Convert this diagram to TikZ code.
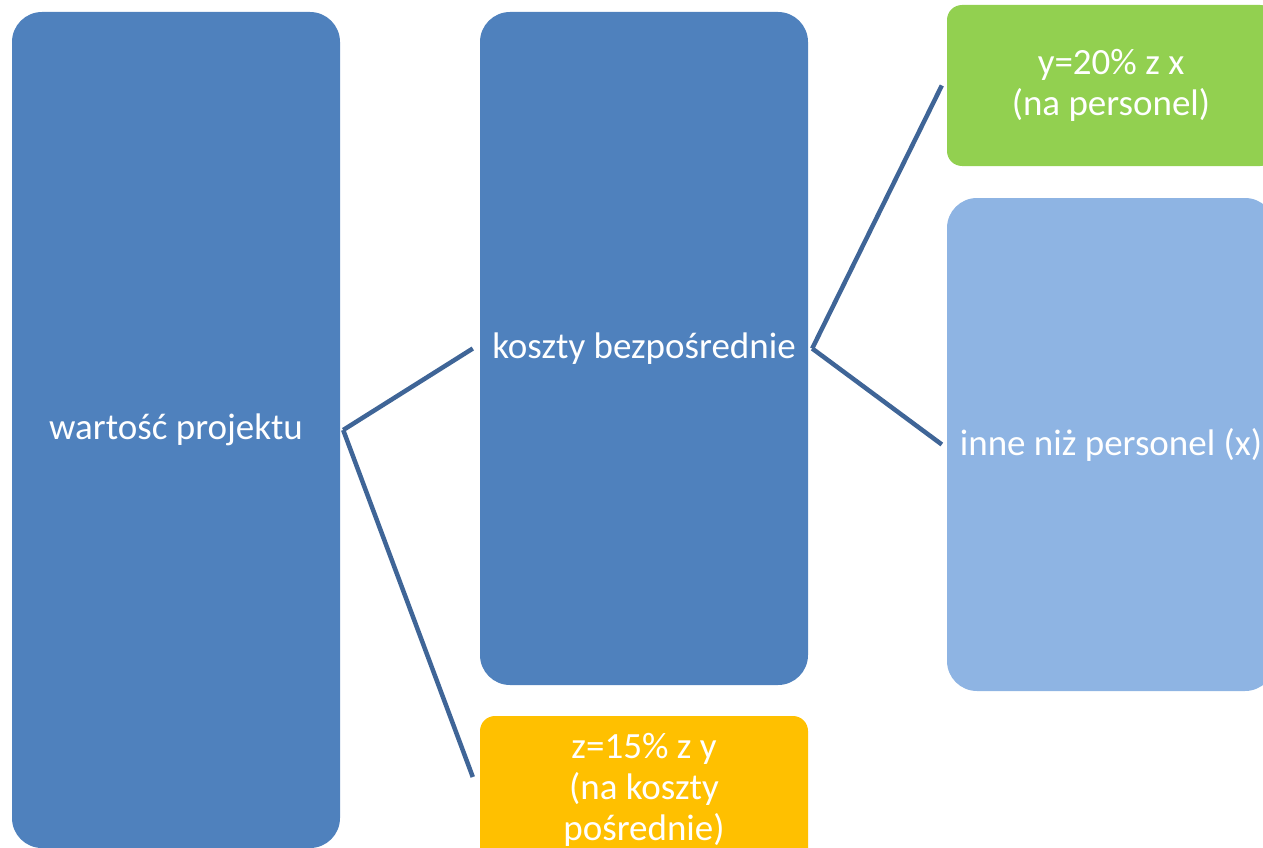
\documentclass[tikz,border=0pt]{standalone}
\usepackage{fontspec}
\setmainfont{Carlito}
\definecolor{niebieski}{HTML}{4F81BD}
\definecolor{jasnoniebieski}{HTML}{8EB4E3}
\definecolor{zielony}{HTML}{92D050}
\definecolor{pomaranczowy}{HTML}{FFC000}
\definecolor{linia}{HTML}{3F6597}
\tikzset{
  pole/.style={rectangle, rounded corners=30pt, inner sep=0pt, minimum width=328pt,
    text=white, align=center, font=\fontsize{37}{41}\selectfont},
  polemale/.style={pole, rounded corners=15pt},
  lacznik/.style={draw=linia, line width=4.5pt}
}
\begin{document}
\begin{tikzpicture}[x=1pt,y=-1pt]

    % Tlo
    \useasboundingbox (0,0) rectangle (1263,848);
    \begin{scope}
    \clip (0,0) rectangle (1263,848);

    % Pola
    \node[pole, fill=niebieski, minimum height=836pt] (wp) at (176,430) {warto\'s\'c projektu};
    \node[pole, fill=niebieski, minimum height=673pt] (kb) at (644,348.5) {koszty bezpo\'srednie};
    \node[polemale, fill=pomaranczowy, minimum height=148pt] (kp) at (644,790) {z=15\% z y\\(na koszty\\po\'srednie)};
    \node[polemale, fill=zielony, minimum height=161pt, text depth=6pt] (np) at (1111,85.5) {y=20\% z x\\(na personel)};
    \node[pole, fill=jasnoniebieski, minimum height=493pt] (inne) at (1111,444.5) {inne ni\.z personel (x)};

    % Polaczenia
    \draw[lacznik] ([xshift=3pt]wp.east) -- ([xshift=-7pt]kb.west);
    \draw[lacznik] ([xshift=3pt]wp.east) -- ([xshift=-7pt,yshift=13pt]kp.west);
    \draw[lacznik] ([xshift=4pt]kb.east) -- ([xshift=-5pt]np.west);
    \draw[lacznik] ([xshift=4pt]kb.east) -- ([xshift=-5pt]inne.west);
    \end{scope}

\end{tikzpicture}
\end{document}
